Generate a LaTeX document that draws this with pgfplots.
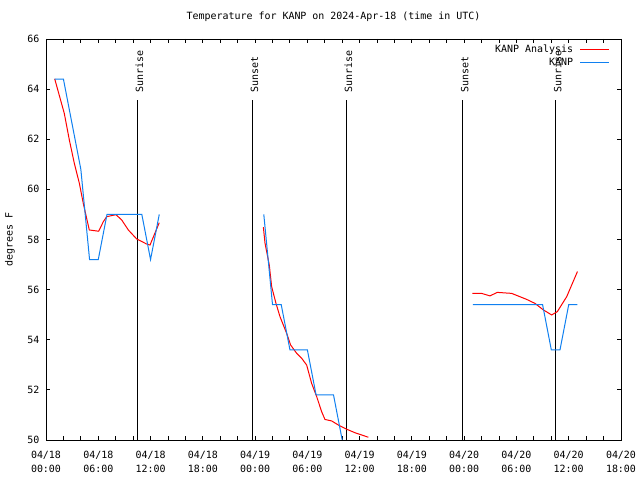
\documentclass[border=0pt]{standalone}
\usepackage{pgfplots}
\pgfplotsset{compat=1.18}
\usepackage{fontspec}
\setmainfont{DejaVu Sans Mono}
\definecolor{obsblue}{RGB}{16,128,240}
\begin{document}
\begin{tikzpicture}[font=\fontsize{10}{14}\selectfont]
\fill[white] (0,0) rectangle (640bp,480bp);
\useasboundingbox (0,0) rectangle (640bp,480bp);
\begin{axis}[
  at={(46bp,40bp)}, anchor=south west,
  scale only axis, width=575bp, height=401bp,
  xmin=0, xmax=66, ymin=50, ymax=66,
  xtick={0,6,...,66},
  minor x tick num=2,
  xticklabels={{04/18\\00:00},{04/18\\06:00},{04/18\\12:00},{04/18\\18:00},{04/19\\00:00},{04/19\\06:00},{04/19\\12:00},{04/19\\18:00},{04/20\\00:00},{04/20\\06:00},{04/20\\12:00},{04/20\\18:00}},
  ytick={50,52,...,66},
  tick align=inside, tick pos=both,
  xticklabel pos=lower, yticklabel pos=left,
  major tick length=4bp, minor tick length=4bp,
  tick style={black, line width=0.9bp},
  axis line style={black, line width=0.9bp},
  /pgf/number format/assume math mode=true,
  xticklabel style={align=center, anchor=north, inner sep=0pt, yshift=-11bp},
  yticklabel style={anchor=east, inner sep=0pt, xshift=-6.5bp},
  ylabel={degrees F},
  ylabel style={at={(axis description cs:0,0.5)}, anchor=center, yshift=36bp, inner sep=0pt},
  title={Temperature for KANP on 2024-Apr-18 (time in UTC)},
  title style={at={(axis description cs:0.5,1)}, anchor=base, yshift=14bp, inner sep=0pt},
  unbounded coords=jump,
  legend style={at={(0.9797,0.9855)}, anchor=north east, draw=none, fill=none,
    inner sep=0pt, row sep=4bp, column sep=6.4bp,
    nodes={inner sep=0pt, text height=7bp, text depth=2bp}},
  legend cell align=right,
  legend plot pos=right,
  legend image code/.code={\draw[#1] (0bp,0bp) -- (28.6bp,0bp);},
]
% sunrise / sunset lines
\addplot[black, line width=1bp, forget plot] coordinates {(10.48,50) (10.48,63.57)};
\addplot[black, line width=1bp, forget plot] coordinates {(23.69,50) (23.69,63.57)};
\addplot[black, line width=1bp, forget plot] coordinates {(34.47,50) (34.47,63.57)};
\addplot[black, line width=1bp, forget plot] coordinates {(47.83,50) (47.83,63.57)};
\addplot[black, line width=1bp, forget plot] coordinates {(58.50,50) (58.50,63.57)};
\node[rotate=90, anchor=west, inner sep=0pt] at (axis cs:10.71,63.85) {Sunrise};
\node[rotate=90, anchor=west, inner sep=0pt] at (axis cs:23.92,63.85) {Sunset};
\node[rotate=90, anchor=west, inner sep=0pt] at (axis cs:34.70,63.85) {Sunrise};
\node[rotate=90, anchor=west, inner sep=0pt] at (axis cs:48.06,63.85) {Sunset};
\node[rotate=90, anchor=west, inner sep=0pt] at (axis cs:58.73,63.85) {Sunrise};
% analysis
\addplot[red, line width=1bp] coordinates {
(1.0,64.41) (2.1,63.03) (2.68,61.97) (3.25,61.04) (3.83,60.24) (4.28,59.44) (4.97,58.38)
(6.04,58.33) (6.58,58.71) (6.96,58.91) (8.03,58.99) (8.69,58.78) (9.45,58.38) (10.41,58.02)
(11.55,57.82) (11.94,57.78) (13.0,58.67)
(20,nan)
(24.95,58.49) (25.14,57.85) (25.63,56.98) (25.90,56.12) (26.40,55.45) (26.86,54.92)
(27.62,54.26) (28.08,53.79) (28.77,53.46) (29.35,53.26) (29.92,52.99) (30.49,52.26)
(31.07,51.73) (31.64,51.13) (32.02,50.82) (32.79,50.76) (33.55,50.60) (34.51,50.43)
(35.47,50.29) (37.0,50.11)
(42,nan)
(48.94,55.85) (50.0,55.85) (50.96,55.75) (51.8,55.89) (53.45,55.85) (55.17,55.61)
(56.13,55.45) (57.09,55.19) (58.04,54.99) (58.69,55.12) (59.77,55.72) (61.0,56.72)
};
\addlegendentry{KANP Analysis}
% observations
\addplot[obsblue, line width=1bp] coordinates {
(1,64.4) (2,64.4) (3,62.6) (4,60.8) (5,57.2) (6,57.2) (7,59.0) (8,59.0) (9,59.0)
(10,59.0) (11,59.0) (12,57.2) (13,59.0)
(20,nan)
(25,59.0) (26,55.4) (27,55.4) (28,53.6) (29,53.6) (30,53.6) (31,51.8) (32,51.8)
(33,51.8) (34,50.0) (35,48.2)
(42,nan)
(49,55.4) (50,55.4) (51,55.4) (52,55.4) (53,55.4) (54,55.4) (55,55.4) (56,55.4)
(57,55.4) (58,53.6) (59,53.6) (60,55.4) (61,55.4)
};
\addlegendentry{KANP}
\end{axis}
\end{tikzpicture}
\end{document}
